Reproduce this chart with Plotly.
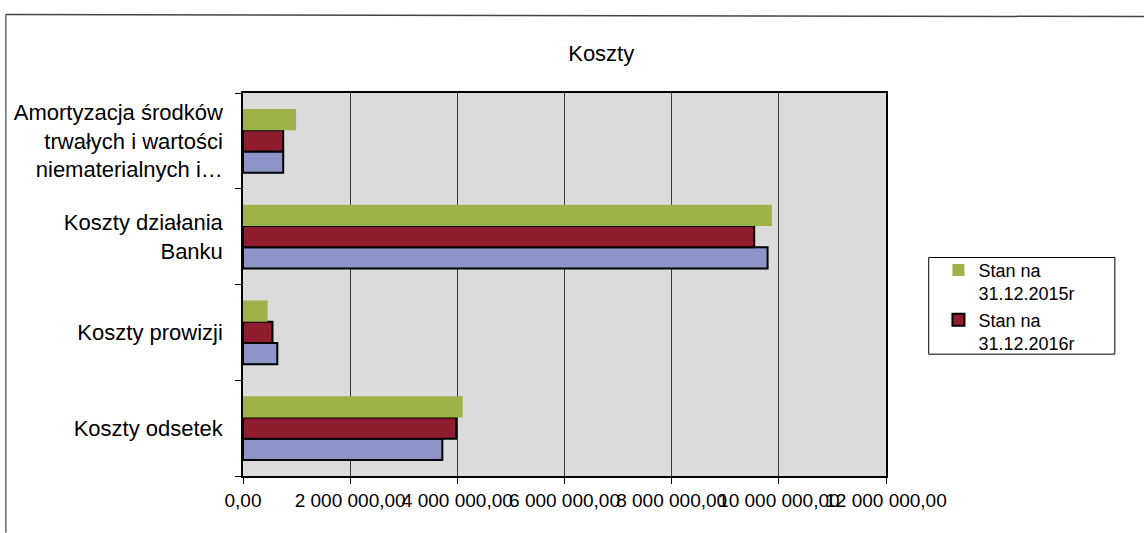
import plotly.graph_objects as go

# ---- data ----
categories = [
    "Koszty odsetek",
    "Koszty prowizji",
    "Koszty działania<br>Banku",
    "Amortyzacja środków<br>trwałych i wartości<br>niematerialnych i…",
]
series_blue_name = "Stan na 31.12.2017r"
series_blue = [3720000, 640000, 9790000, 750000]
series_red_name = "Stan na<br>31.12.2016r"
series_red = [3980000, 550000, 9540000, 750000]
series_green_name = "Stan na<br>31.12.2015r"
series_green = [4100000, 460000, 9870000, 990000]

x_tickvals = [0, 2000000, 4000000, 6000000, 8000000, 10000000, 12000000]
x_ticktext = ["0,00", "2 000 000,00", "4 000 000,00", "6 000 000,00",
              "8 000 000,00", "10 000 000,00", "12 000 000,00"]

title_text = "Koszty"

# ---- layout geometry (pixels) ----
W, H = 1144, 533
PL, PR, PT, PB = 243, 885.6, 93, 476.5
pw, ph = PR - PL, PB - PT


def xp(px):
    return (px - PL) / pw


def yp(py):
    return (PB - py) / ph


FONT = "Liberation Sans, Arial, sans-serif"

fig = go.Figure()
fig.add_trace(go.Bar(
    y=categories, x=series_blue, orientation="h", name=series_blue_name,
    marker=dict(color="#8d95c8", line=dict(color="#000000", width=2)),
    showlegend=False,
))
fig.add_trace(go.Bar(
    y=categories, x=series_red, orientation="h", name=series_red_name,
    marker=dict(color="#8f1d2f", line=dict(color="#000000", width=2)),
))
fig.add_trace(go.Bar(
    y=categories, x=series_green, orientation="h", name=series_green_name,
    marker=dict(color="#9db248", line=dict(width=0)),
))

fig.update_layout(
    width=W, height=H,
    margin=dict(l=PL, r=W - PR, t=PT, b=H - PB, pad=0),
    paper_bgcolor="#ffffff",
    plot_bgcolor="#dbdbdb",
    barmode="group",
    bargap=0.333,
    bargroupgap=0,
    font=dict(family=FONT, color="#000000"),
    title=dict(text=title_text, font=dict(size=22, family=FONT, color="#000000"),
               x=xp(601), xref="paper", xanchor="center",
               y=1 - 53 / H, yref="container", yanchor="middle"),
    xaxis=dict(
        range=[0, 12000000], tickvals=x_tickvals, ticktext=x_ticktext,
        tickangle=0, tickfont=dict(size=19, family=FONT, color="#000000"),
        ticks="outside", ticklen=6, tickcolor="#000000",
        showgrid=True, gridcolor="#3a3a3a", gridwidth=1,
        showline=True, linecolor="#000000", linewidth=1.5, mirror=True,
        zeroline=False, fixedrange=True,
    ),
    yaxis=dict(
        categoryorder="array", categoryarray=categories,
        tickson="boundaries", ticks="outside", ticklen=6, tickcolor="#000000",
        tickfont=dict(size=22, family=FONT, color="#000000"),
        showgrid=False, showline=True, linecolor="#000000", linewidth=1.5,
        mirror=True, zeroline=False, fixedrange=True,
        ticklabelstandoff=14,
    ),
    legend=dict(
        x=xp(938), y=yp(252), xanchor="left", yanchor="top",
        xref="paper", yref="paper",
        bgcolor="rgba(0,0,0,0)", borderwidth=0,
        font=dict(size=18, family=FONT, color="#000000"),
        traceorder="reversed", valign="top", itemwidth=30,
        tracegroupgap=0,
    ),
    shapes=[
        # legend box
        dict(type="rect", xref="paper", yref="paper",
             x0=xp(928.3), x1=xp(1114.3), y0=yp(354.5), y1=yp(257.7),
             line=dict(color="#000000", width=1), fillcolor="rgba(0,0,0,0)",
             layer="below"),
        # outer chart frame (top and left edges)
        dict(type="line", xref="paper", yref="paper",
             x0=xp(6), x1=xp(1144), y0=yp(14.5), y1=yp(16.5),
             line=dict(color="#444444", width=1.5)),
        dict(type="line", xref="paper", yref="paper",
             x0=xp(6), x1=xp(6), y0=yp(14.5), y1=yp(533),
             line=dict(color="#666666", width=1.5)),
    ],
)

fig.write_html("out.html")
